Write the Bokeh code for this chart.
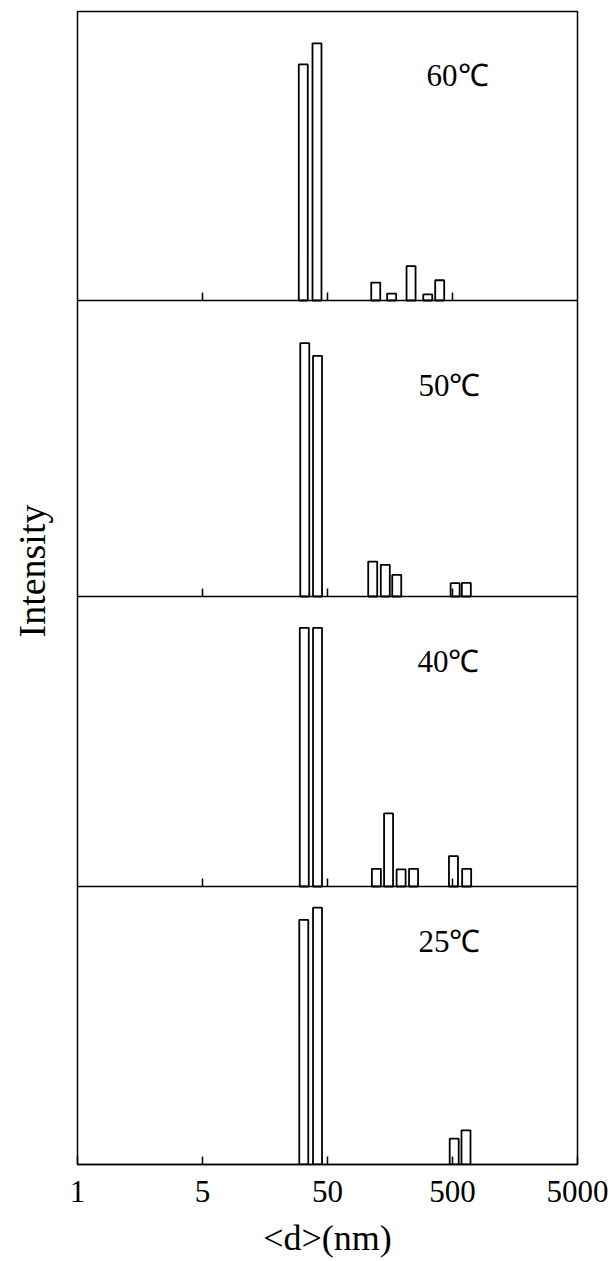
from bokeh.plotting import figure
from bokeh.models import ColumnDataSource, FixedTicker, Span, Label, Title
from bokeh.embed import file_html
from bokeh.resources import INLINE

# ---------------- data ----------------
tick_values = [0.5, 5, 50, 500, 5000]
tick_labels = ["1", "5", "50", "500", "5000"]

temps = ["25℃", "40℃", "50℃", "60℃"]

# particle diameter (nm) and relative intensity (% of panel height)
d_25 = [32.3, 41.6, 516, 641]
i_25 = [88.0, 92.4, 9.3, 12.3]

d_40 = [32.6, 41.6, 123, 154, 194, 244, 509, 649]
i_40 = [89.2, 89.2, 6.1, 25.2, 5.9, 6.1, 10.5, 6.1]

d_50 = [32.9, 41.6, 115, 145, 179, 525, 645]
i_50 = [85.6, 81.3, 11.8, 10.7, 7.3, 4.5, 4.6]

d_60 = [32.0, 41.2, 121.6, 163, 233, 317, 395]
i_60 = [81.7, 89.0, 6.2, 2.4, 11.9, 2.1, 7.0]

diams = [d_25, d_40, d_50, d_60]
intens = [i_25, i_40, i_50, i_60]

# ---------------- layout constants ----------------
FONT = "Liberation Serif"
panel_h = [278, 290, 296, 289]          # panel heights (bottom to top)
panel_base = [0, 278, 568, 864]
half_w = 10 ** 0.036                    # bar half width (log factor)
label_pos = [(267, 223), (262, 503), (267, 779), (310, 1089)]

p = figure(width=613, height=1261, x_axis_type="log",
           x_range=(0.5, 5000), y_range=(0, sum(panel_h)),
           output_backend="svg", toolbar_location=None,
           min_border_left=77, min_border_right=36,
           min_border_top=11, min_border_bottom=97)

p.background_fill_color = "white"
p.border_fill_color = "white"
p.outline_line_color = "black"
p.outline_line_width = 1.5
p.xgrid.visible = False
p.ygrid.visible = False

for k in range(4):
    base = panel_base[k]
    h = panel_h[k]
    d = diams[k]
    it = intens[k]
    src = ColumnDataSource(dict(
        left=[v / half_w for v in d],
        right=[v * half_w for v in d],
        bottom=[base] * len(d),
        top=[base + val / 100.0 * h for val in it],
    ))
    p.quad(left="left", right="right", bottom="bottom", top="top", source=src,
           fill_color="white", line_color="black", line_width=1.8)
    if k > 0:
        p.add_layout(Span(location=base, dimension="width",
                          line_color="black", line_width=1.5))
        tv = tick_values[1:-1]
        p.segment(x0=tv, x1=tv, y0=[base] * len(tv), y1=[base + 8] * len(tv),
                  line_color="black", line_width=1.5)
    lx, ly = label_pos[k]
    p.add_layout(Label(x=lx, y=ly, text=temps[k], text_font=FONT,
                       text_font_size="31px", text_align="left",
                       text_baseline="middle", text_color="black"))

p.yaxis.visible = False

# spacer panel between frame and the y label
spacer = Title(text=" ", text_font=FONT, text_font_size="10px", standoff=3)
p.add_layout(spacer, "left")

# y label "Intensity" as a side title
ytitle = Title(text="Intensity", align="left", vertical_align="top",
               offset=527, standoff=14,
               text_font=FONT, text_font_size="38px",
               text_font_style="normal", text_color="black")
p.add_layout(ytitle, "left")

# x axis
xa = p.xaxis[0]
xa.ticker = FixedTicker(ticks=tick_values, minor_ticks=[])
xa.major_label_overrides = {v: s for v, s in zip(tick_values, tick_labels)}
xa.major_tick_in = 8
xa.major_tick_out = 0
xa.minor_tick_in = 0
xa.minor_tick_out = 0
xa.major_tick_line_width = 1.5
xa.major_tick_line_color = "black"
xa.axis_line_width = 1.5
xa.axis_line_color = "black"
xa.major_label_text_font = FONT
xa.major_label_text_font_size = "31px"
xa.major_label_text_color = "black"
xa.major_label_standoff = 16
xa.axis_label = "<d>(nm)"
xa.axis_label_text_font = FONT
xa.axis_label_text_font_size = "36px"
xa.axis_label_text_font_style = "normal"
xa.axis_label_text_color = "black"
xa.axis_label_standoff = 13

open("out.html", "w").write(file_html(p, INLINE))
